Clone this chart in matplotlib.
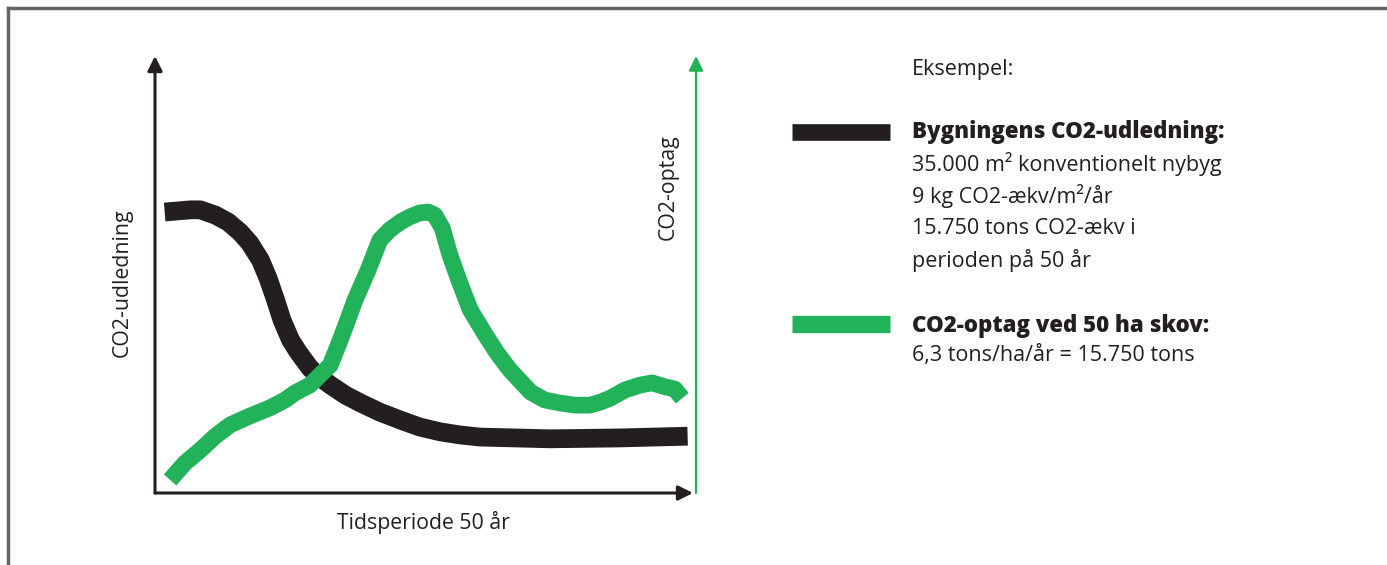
import matplotlib.pyplot as plt
from matplotlib.lines import Line2D

# Black curve: building emissions (years, relative level)
black_x = [0.9, 1.9, 3.3, 4.2, 5.6, 6.8, 7.9, 8.8, 9.8, 10.5, 11.2, 11.8, 12.6, 13.3, 14.4,
           15.3, 16.3, 17.7, 19.1, 20.9, 22.8, 24.6, 26.5, 28.3, 30.2, 36.7, 43.2, 49.5]
black_y = [64.3, 64.5, 64.8, 64.8, 63.6, 62.0, 59.7, 57.2, 53.3, 49.2, 44.2, 39.6, 35.0, 32.3,
           28.6, 26.5, 24.7, 22.4, 20.6, 18.5, 16.7, 15.1, 14.0, 13.3, 12.8, 12.4, 12.6, 13.0]

# Green curve: forest uptake
green_x = [1.4, 2.8, 4.2, 5.6, 7.0, 8.8, 10.7, 12.1, 13.0, 14.4, 16.3, 17.4, 18.6, 19.8,
           20.9, 21.8, 22.8, 23.7, 24.6, 25.4, 26.0, 26.7, 27.4, 28.3, 29.3, 30.7, 31.8,
           33.0, 34.9, 36.2, 37.6, 39.0, 40.4, 41.4, 42.3, 43.7, 45.1, 46.2, 47.4, 48.3, 49.0]
green_y = [3.0, 6.9, 9.8, 13.0, 15.6, 17.6, 19.5, 21.3, 22.9, 24.7, 29.3, 36.2, 44.2, 51.0,
           57.9, 60.2, 62.0, 63.2, 64.1, 64.3, 63.6, 60.6, 54.5, 48.3, 41.9, 36.2, 32.0,
           28.1, 23.1, 21.3, 20.6, 20.1, 20.1, 20.8, 21.7, 23.6, 24.7, 25.2, 24.3, 23.8, 21.7]

x_label = "Tidsperiode 50 år"
y_left_label = "CO2-udledning"
y_right_label = "CO2-optag"

legend_black_title = "Bygningens CO2-udledning:"
legend_black_lines = ["35.000 m² konventionelt nybyg", "9 kg CO2-ækv/m²/år",
                      "15.750 tons CO2-ækv i", "perioden på 50 år"]
legend_green_title = "CO2-optag ved 50 ha skov:"
legend_green_lines = ["6,3 tons/ha/år = 15.750 tons"]

BLACK = "#231f20"
GREEN = "#22b35a"
W, H = 1387, 565

plt.rcParams["font.family"] = ["Open Sans", "DejaVu Sans"]

fig = plt.figure(figsize=(W / 100, H / 100), dpi=100)


def fx(px):
    return px / W


def fy(py):
    return 1 - py / H


# outer frame (top and left only)
fig.add_artist(Line2D([fx(8), 1], [fy(8), fy(8)], color="#666666", lw=2.5))
fig.add_artist(Line2D([fx(8), fx(8)], [fy(8), 0], color="#666666", lw=2.5))

ax = fig.add_axes([fx(155), fy(493), fx(693) - fx(155), fy(56) - fy(493)])
ax.set_xlim(0, 50)
ax.set_ylim(0, 100)
ax.axis("off")

ax.plot(black_x, black_y, color=BLACK, lw=13.5, solid_capstyle="butt", solid_joinstyle="round")
ax.plot(green_x, green_y, color=GREEN, lw=12, solid_capstyle="butt", solid_joinstyle="round")

# axis arrows
arrow = dict(arrowstyle="-|>", mutation_scale=22, lw=2.2, color=BLACK, shrinkA=0, shrinkB=0)
ax.annotate("", xy=(1.0, 0), xytext=(0, 0), xycoords="axes fraction", arrowprops=arrow)
ax.annotate("", xy=(0, 1.0), xytext=(0, 0), xycoords="axes fraction", arrowprops=arrow)
garrow = dict(arrowstyle="-|>", mutation_scale=22, lw=1.6, color=GREEN, shrinkA=0, shrinkB=0)
ax.annotate("", xy=(1.0056, 1.0), xytext=(1.0056, 0), xycoords="axes fraction", arrowprops=garrow)

# axis labels
fig.text(fx(423), fy(522), x_label, ha="center", va="center", fontsize=15.3, color=BLACK)
fig.text(fx(122), fy(283), y_left_label, ha="center", va="center", rotation=90,
         fontsize=15.3, color=BLACK)
fig.text(fx(668), fy(187), y_right_label, ha="center", va="center", rotation=90,
         fontsize=15.3, color=BLACK)

# legend
fig.text(fx(912), fy(70), "Eksempel:", ha="left", va="center", fontsize=15.5, color=BLACK)

fig.add_artist(Line2D([fx(792), fx(890)], [fy(132), fy(132)], color=BLACK, lw=12,
                      solid_capstyle="butt"))
fig.text(fx(912), fy(132), legend_black_title, ha="left", va="center", fontsize=16,
         fontweight="heavy", color=BLACK)
for i, line in enumerate(legend_black_lines):
    fig.text(fx(912), fy(164 + 32 * i), line, ha="left", va="center", fontsize=15.5, color=BLACK)

fig.add_artist(Line2D([fx(792), fx(890)], [fy(324), fy(324)], color=GREEN, lw=12.5,
                      solid_capstyle="butt"))
fig.text(fx(912), fy(326), legend_green_title, ha="left", va="center", fontsize=16,
         fontweight="heavy", color=BLACK)
for i, line in enumerate(legend_green_lines):
    fig.text(fx(912), fy(355 + 32 * i), line, ha="left", va="center", fontsize=15.5, color=BLACK)

fig.savefig("out.png", dpi=100)
